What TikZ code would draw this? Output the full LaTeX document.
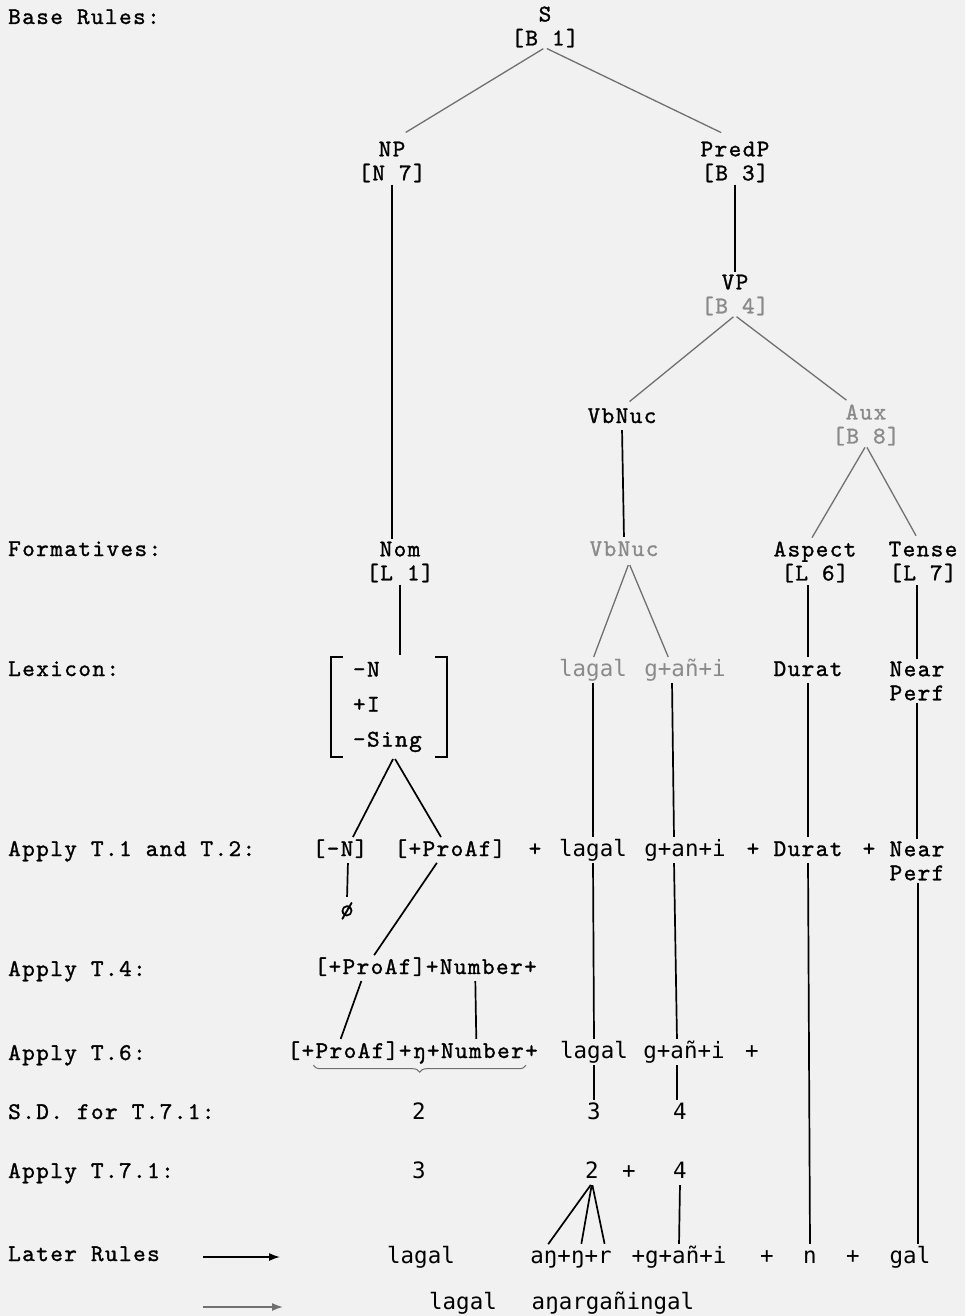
\documentclass[tikz,border=0pt]{standalone}
\usepackage{fontspec}
\newfontfamily\typer{lmmono10-regular.otf}[LetterSpace=6,FakeBold=1.2]
\newfontfamily\gothic{DejaVu Sans Mono}
\usetikzlibrary{arrows.meta,calc,decorations.pathreplacing}

\definecolor{paper}{HTML}{F1F1F1}
\definecolor{faint}{HTML}{8A8A8A}
\definecolor{faintline}{HTML}{707070}

\tikzset{
  every node/.style={inner sep=0pt, font=\fontsize{24}{24}\selectfont\typer},
  word/.style={text height=17pt, text depth=5pt},
  rowlbl/.style={word, anchor=west},
  pair/.style={align=center},
  goth/.style={word, font=\fontsize{22.5}{24}\selectfont\gothic},
  ghost/.style={text=faint},
  branch/.style={line width=1.7pt, shorten <=2pt, shorten >=2pt},
  pale/.style={line width=1.3pt, draw=faintline, shorten <=2pt, shorten >=2pt},
}

\begin{document}
\begin{tikzpicture}[x=1pt,y=-1pt]

  \fill[paper] (0,0) rectangle (965,1316);
  \useasboundingbox (0,0) rectangle (965,1316);

  % row labels
  \node[rowlbl] (lbase)  at (8,18)   {Base Rules:};
  \node[rowlbl] (lform)  at (8,550)  {Formatives:};
  \node[rowlbl] (llex)   at (8,670)  {Lexicon:};
  \node[rowlbl] (lt1)    at (8,850)  {Apply T.1 and T.2:};
  \node[rowlbl] (lt4)    at (8,970)  {Apply T.4:};
  \node[rowlbl] (lt6)    at (8,1054) {Apply T.6:};
  \node[rowlbl] (lsd)    at (8,1113) {S.D. for T.7.1:};
  \node[rowlbl] (lt71)   at (8,1172) {Apply T.7.1:};
  \node[rowlbl] (llater) at (8,1255) {Later Rules};

  % base tree
  \node[pair] (S)      at (545,27)  {S\\{[B 1]}};
  \node[pair] (NP)     at (392,162) {NP\\{[N 7]}};
  \node[pair] (PredP)  at (735,162) {PredP\\{[B 3]}};
  \node[pair] (VP)     at (735,295) {VP\\{\color{faint}[B 4]}};
  \node[word] (VbNucA) at (622,417) {VbNuc};
  \node[pair,ghost] (Aux) at (866,425) {Aux\\{[B 8]}};

  % formatives
  \node[pair] (Nom)    at (400,562) {Nom\\{[L 1]}};
  \node[word,ghost] (VbNucB) at (624,550) {VbNuc};
  \node[pair] (Aspect) at (815,562) {Aspect\\{[L 6]}};
  \node[pair] (Tense)  at (923,562) {Tense\\{[L 7]}};

  % lexicon
  \node[align=left, text width=72pt, minimum width=116pt, minimum height=100pt]
    (feat) at (389,707) {-N\\[11pt]+I\\[11pt]-Sing};
  \draw[line width=1.7pt] (feat.north west) ++(12,0) -| (feat.south west) -- ++(12,0);
  \draw[line width=1.7pt] (feat.north east) ++(-12,0) -| (feat.south east) -- ++(-12,0);
  \node[goth,ghost] (lagalLex) at (593,670) {lagal};
  \node[goth,ghost] (ganiLex)  at (685,670) {g+añ+i};
  \node[word] (duratLex) at (808,670) {Durat};
  \node[pair] (nearLex)  at (917,681) {Near\\Perf};

  % T.1 and T.2
  \node[word] (negN)   at (340,850) {[-N]};
  \node[word] (proafA) at (450,850) {[+ProAf]};
  \node[word] (plusA)  at (535,850) {+};
  \node[goth] (lagalA) at (593,850) {lagal};
  \node[goth] (ganiA)  at (685,850) {g+an+i};
  \node[word] (plusB)  at (753,850) {+};
  \node[word] (duratA) at (808,850) {Durat};
  \node[word] (plusC)  at (869,850) {+};
  \node[pair] (nearA)  at (917,861) {Near\\Perf};
  \node[word] (null)   at (347,910) {ø};

  % T.4
  \node[word] (proafB) at (370,968) {[+ProAf]};
  \node[word, anchor=west] (numB) at (proafB.east) {+Number+};

  % T.6
  \node[word] (proafC) at (343,1052) {[+ProAf]};
  \node[word, anchor=west] (numC) at (proafC.east) {+ŋ+Number+};
  \node[goth] (lagalC) at (594,1052) {lagal};
  \node[goth] (ganiC)  at (684,1052) {g+añ+i};
  \node[goth] (plusD)  at (752,1052) {+};

  % S.D. for T.7.1
  \node[goth] (sdTwo)   at (419,1113) {2};
  \node[goth] (sdThree) at (594,1113) {3};
  \node[goth] (sdFour)  at (680,1113) {4};

  % T.7.1
  \node[goth] (tThree) at (419,1172) {3};
  \node[goth] (tTwo)   at (592,1172) {2};
  \node[goth] (tPlus)  at (629,1172) {+};
  \node[goth] (tFour)  at (680,1172) {4};

  % later rules
  \node[goth] (lagalD) at (421,1257) {lagal};
  \node[goth] (angr)   at (571,1257) {aŋ+ŋ+r};
  \node[goth] (ganiD)  at (679,1257) {+g+añ+i};
  \node[goth] (plusE)  at (767,1257) {+};
  \node[goth] (nD)     at (810,1257) {n};
  \node[goth] (plusF)  at (853,1257) {+};
  \node[goth] (galD)   at (910,1257) {gal};
  \node[goth] (lagalE) at (463,1303) {lagal};
  \node[goth] (wordE)  at (613,1303) {aŋargañingal};

  \coordinate (arrA) at (203,1257);
  \coordinate (arrB) at (280,1257);
  \coordinate (arrC) at (203,1307);
  \coordinate (arrD) at (283,1307);

  % grey branches
  \draw[pale] (S.south) -- ($(NP.north)+(12,-8)$);
  \draw[pale] (S.south) -- ($(PredP.north)+(-12,-8)$);
  \draw[pale] (VP.south) -- ($(VbNucA.north)+(6,-3)$);
  \draw[pale] (VP.south) -- ($(Aux.north)+(-18,-3)$);
  \draw[pale] (Aux.south) -- ($(Aspect.north)+(-4,-2)$);
  \draw[pale] (Aux.south) -- ($(Tense.north)+(-6,-4)$);
  \draw[pale] ($(VbNucB.south)+(5,2)$) -- (lagalLex.north);
  \draw[pale] ($(VbNucB.south)+(5,2)$) -- ($(ganiLex.north)+(-16,0)$);

  % black branches
  \draw[branch] (NP.south) -- (NP.south |- Nom.north);
  \draw[branch] (PredP.south) -- (VP.north);
  \draw[branch] (VbNucA.south) -- (VbNucB.north);
  \draw[branch] (Nom.south) -- (Nom.south |- feat.north);
  \draw[branch] (duratLex.north) -- (duratLex.north |- Aspect.south);
  \draw[branch] (nearLex.north) -- (nearLex.north |- Tense.south);
  \draw[branch] ($(feat.south)+(5,0)$) -- ($(negN.north)+(12,0)$);
  \draw[branch] ($(feat.south)+(5,0)$) -- ($(proafA.north)+(-8,0)$);
  \draw[branch] ($(negN.south)+(8,0)$) -- (null.north);
  \draw[branch] ($(proafA.south)+(-12,0)$) -- ($(proafB.north)+(3,0)$);
  \draw[branch] ($(proafB.south)+(-8,0)$) -- ($(proafC.north)+(-3,0)$);
  \draw[branch] ($(numB.south)+(-6,0)$) -- ($(numC.north)+(8,0)$);
  \draw[branch] (lagalLex.south) -- (lagalA.north);
  \draw[branch] ($(ganiLex.south)+(-13,0)$) -- ($(ganiA.north)+(-11,0)$);
  \draw[branch] (duratLex.south) -- (duratA.north);
  \draw[branch] (nearLex.south) -- (nearA.north);
  \draw[branch] (lagalA.south) -- (lagalC.north);
  \draw[branch] ($(ganiA.south)+(-11,0)$) -- ($(ganiC.north)+(-7,0)$);
  \draw[branch] (duratA.south) -- (nD.north);
  \draw[branch] ($(nearA.south)+(1,0)$) -- ($(galD.north)+(8,0)$);
  \draw[branch] (lagalC.south) -- (sdThree.north);
  \draw[branch] ($(ganiC.south)+(-7,0)$) -- ($(sdFour.north)+(-3,0)$);
  \draw[branch] (tTwo.south) -- ($(angr.north)+(-24,0)$);
  \draw[branch] (tTwo.south) -- ($(angr.north)+(10,0)$);
  \draw[branch] (tTwo.south) -- ($(angr.north)+(34,0)$);
  \draw[branch] (tFour.south) -- (ganiD.north);

  % brace under T.6
  \draw[faintline, line width=1pt, decorate, decoration={brace, mirror, amplitude=7pt}]
    ($(proafC.south west)+(26,2)$) -- ($(numC.south east)+(-12,2)$);

  % arrows
  \draw[line width=1.5pt, -{Latex[length=11pt,width=8pt]}] (arrA) -- (arrB);
  \draw[faintline, line width=1.5pt, -{Latex[length=11pt,width=8pt]}] (arrC) -- (arrD);

\end{tikzpicture}
\end{document}
